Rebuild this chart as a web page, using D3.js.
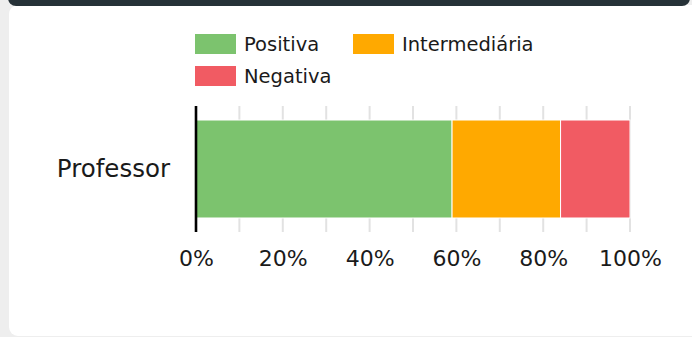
<!DOCTYPE html>
<html><head><meta charset="utf-8">
<script src="https://cdn.jsdelivr.net/npm/d3@7"></script>
<style>html,body{margin:0;padding:0;background:#eeeeee;overflow:hidden}text{font-family:"DejaVu Sans",sans-serif;fill:#1a1a1a}</style>
</head><body>
<svg id="c" width="692" height="337"></svg>
<script>
const categories = ["Professor"];
const seriesNames = ["Positiva", "Intermediária", "Negativa"];
const seriesColors = ["#7cc36e", "#ffa900", "#f15b63"];
const values = { "Positiva": [59], "Intermediária": [25], "Negativa": [16] };
const tickValues = [0, 20, 40, 60, 80, 100];

const svg = d3.select("#c");
svg.append("rect").attr("width", 692).attr("height", 337).attr("fill", "#eeeeee");
svg.append("rect").attr("x", 9).attr("y", 5).attr("width", 720).attr("height", 331).attr("rx", 9).attr("fill", "#ffffff");
svg.append("rect").attr("x", 8).attr("y", -12).attr("width", 682).attr("height", 18).attr("rx", 8).attr("fill", "#263238");

const x = d3.scaleLinear().domain([0, 100]).range([196, 630]);
const y = d3.scaleBand().domain(categories).range([106, 232]).paddingInner(0).paddingOuter(0.143);

// grid
const grid = d3.range(0, 101, 10);
svg.append("g").selectAll("line").data(grid).join("line")
  .attr("x1", d => x(d)).attr("x2", d => x(d))
  .attr("y1", 106).attr("y2", 232)
  .attr("stroke", "#e2e2e2").attr("stroke-width", 2);

// stacked bars
const rows = categories.map((c, i) => {
  const o = { cat: c };
  seriesNames.forEach(s => o[s] = values[s][i]);
  return o;
});
const stack = d3.stack().keys(seriesNames)(rows);
svg.append("g").selectAll("g").data(stack).join("g")
  .attr("fill", (d, i) => seriesColors[i])
  .selectAll("rect").data(d => d).join("rect")
  .attr("x", d => x(d[0]))
  .attr("width", d => x(d[1]) - x(d[0]))
  .attr("y", d => y(d.data.cat))
  .attr("height", y.bandwidth())
  .attr("stroke", "#ffffff").attr("stroke-width", 1);

// y axis line
svg.append("line").attr("x1", x(0)).attr("x2", x(0)).attr("y1", 106).attr("y2", 232)
  .attr("stroke", "#000").attr("stroke-width", 2.6);

// x tick labels
const xAxis = d3.axisBottom(x).tickValues(tickValues).tickFormat(d => d + "%").tickSize(0).tickPadding(0);
const gx = svg.append("g").attr("transform", "translate(0,250)").call(xAxis);
gx.select(".domain").remove();
gx.selectAll("text").attr("font-size", 22).attr("dy", "0.71em").style("font-family", '"DejaVu Sans",sans-serif').attr("fill", "#1a1a1a");

// y labels
const yAxis = d3.axisLeft(y).tickSize(0).tickPadding(0);
const gy = svg.append("g").attr("transform", "translate(170,0)").call(yAxis);
gy.select(".domain").remove();
gy.selectAll("text").attr("font-size", 24.5).style("font-family", '"DejaVu Sans",sans-serif').attr("fill", "#1a1a1a");

// legend
const legPos = [[195, 34], [353, 34], [195, 66]];
const leg = svg.append("g").selectAll("g").data(seriesNames).join("g")
  .attr("transform", (d, i) => `translate(${legPos[i][0]},${legPos[i][1]})`);
leg.append("rect").attr("width", 41).attr("height", 20).attr("fill", (d, i) => seriesColors[i]);
leg.append("text").attr("x", 49).attr("y", 10).attr("dy", "0.36em").attr("font-size", 19.5).text(d => d);
</script>
</body></html>
